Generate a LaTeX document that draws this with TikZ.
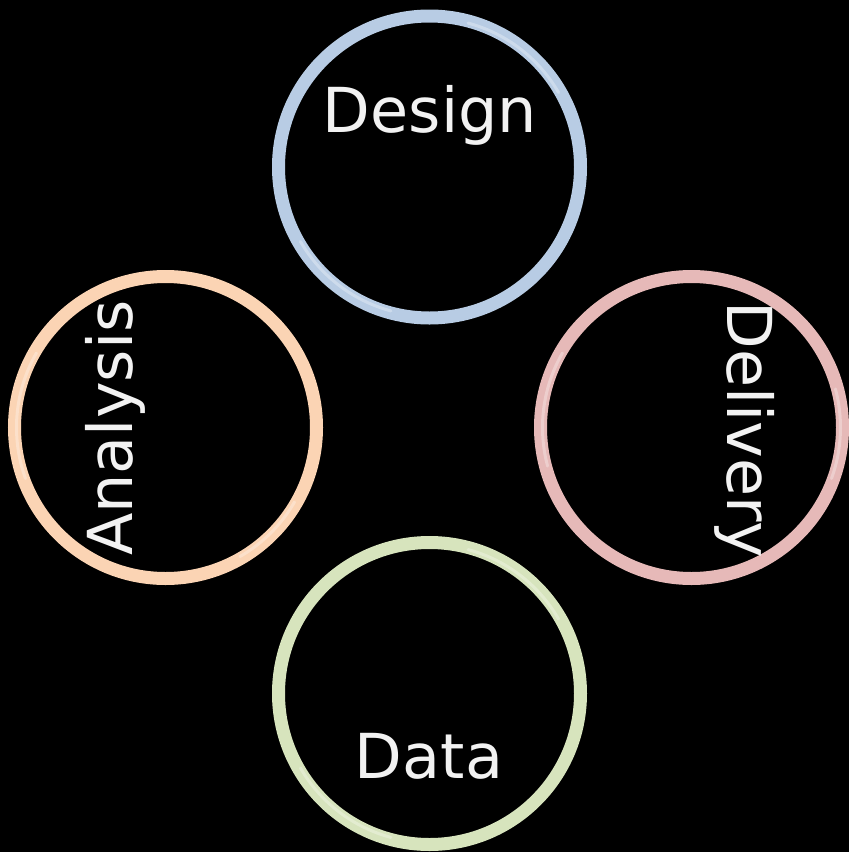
\documentclass[tikz,border=0pt]{standalone}
\usepackage{fontspec}
\usetikzlibrary{calc}
\setmainfont{DejaVu Sans}
\definecolor{ringblue}{HTML}{B8CCE4}
\definecolor{ringpeach}{HTML}{FBD4B4}
\definecolor{ringrose}{HTML}{E6B9B8}
\definecolor{ringgreen}{HTML}{D7E4BD}
\definecolor{txt}{HTML}{F2F2F2}
\tikzset{
  ring/.style={circle, draw=#1, line width=13pt, minimum size=302pt, inner sep=0pt},
  shine/.style={draw=white, line width=3pt, opacity=0.3, line cap=round},
  lbl/.style={text=txt, font=\fontsize{62}{62}\selectfont, inner sep=0pt, anchor=base}
}
\begin{document}
\begin{tikzpicture}[x=1pt,y=-1pt]
\fill[black] (0,0) rectangle (849,852);
\useasboundingbox (0,0) rectangle (849,852);
\node[ring=ringblue]  (design)   at (429.5,167) {};
\node[ring=ringpeach] (analysis) at (165.5,427.5) {};
\node[ring=ringrose]  (delivery) at (691.5,427.5) {};
\node[ring=ringgreen] (data)     at (429.5,693.5) {};
% subtle highlights (y axis is flipped, so angles run clockwise)
\draw[shine] ($(design.center)+(-30:149)$) arc[start angle=-30, end angle=-75, radius=149];
\draw[shine] ($(design.center)+(150:149)$) arc[start angle=150, end angle=105, radius=149];
\draw[shine] ($(analysis.center)+(160:149)$) arc[start angle=160, end angle=210, radius=149];
\draw[shine] ($(analysis.center)+(30:149)$) arc[start angle=30, end angle=60, radius=149];
\draw[shine] ($(delivery.center)+(165:149)$) arc[start angle=165, end angle=210, radius=149];
\draw[shine] ($(delivery.center)+(-15:149)$) arc[start angle=-15, end angle=20, radius=149];
\draw[shine] ($(data.center)+(-30:149)$) arc[start angle=-30, end angle=-75, radius=149];
\draw[shine] ($(data.center)+(150:149)$) arc[start angle=150, end angle=105, radius=149];
\node[lbl] (tdesign) at (430,132) {Design};
\node[lbl, rotate=90] (tanalysis) at (132,428) {Analysis};
\node[lbl, rotate=-90] (tdelivery) at (727,430) {Delivery};
\node[lbl] (tdata) at (429,778) {Data};
\end{tikzpicture}
\end{document}
